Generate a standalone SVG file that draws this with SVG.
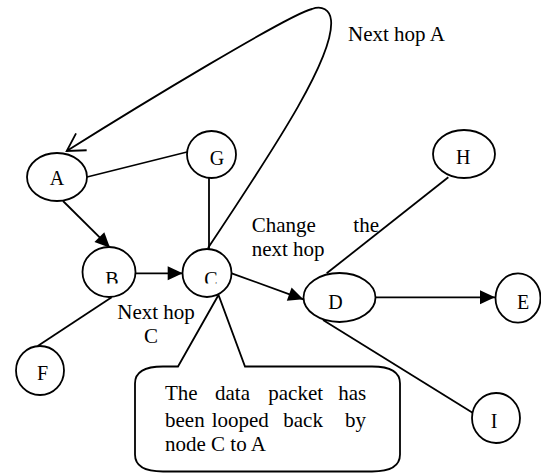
<svg xmlns="http://www.w3.org/2000/svg" width="541" height="473" viewBox="0 0 541 473">
<style>
  .node ellipse { fill: #fff; stroke: #000; stroke-width: 1.8; }
  .lbl { font-family: "Liberation Serif", "Times New Roman", serif; font-size: 20px; fill: #000; text-anchor: middle; }
  .txt { font-family: "Liberation Serif", "Times New Roman", serif; font-size: 21px; fill: #000; }
  .edge { fill: none; stroke: #000; stroke-width: 1.8; }
  .arr { marker-end: url(#head); }
</style>
<defs>
  <marker id="head" markerUnits="userSpaceOnUse" markerWidth="16" markerHeight="16" refX="15" refY="7" orient="auto" overflow="visible">
    <path d="M0,0 L15,7 L0,14 Z" fill="#000"/>
  </marker>
  <marker id="open" markerUnits="userSpaceOnUse" markerWidth="24" markerHeight="24" refX="20" refY="11" orient="auto" overflow="visible">
    <path d="M2.7,1 L20,11 L2.7,21" fill="none" stroke="#000" stroke-width="1.8"/>
  </marker>
  <clipPath id="cut">
    <rect x="0" y="0" width="541" height="283.5"/>
  </clipPath>
</defs>
<rect width="541" height="473" fill="#fff"/>

<g id="connectors">
  <line class="edge" x1="87" y1="177" x2="187" y2="152"/>
  <line class="edge" x1="209" y1="178" x2="209" y2="249"/>
  <line class="edge" x1="448.3" y1="177.3" x2="326.7" y2="273.3"/>
  <line class="edge" x1="111.7" y1="297.3" x2="37.7" y2="346"/>
  <line class="edge" x1="323" y1="320" x2="473" y2="413"/>
  <line class="edge arr" x1="63" y1="201" x2="110" y2="247.7"/>
  <line class="edge arr" x1="135.7" y1="273.3" x2="182.7" y2="273.3"/>
  <line class="edge arr" x1="231.7" y1="273.3" x2="303.3" y2="299.3"/>
  <line class="edge arr" x1="375.7" y1="297.3" x2="495" y2="297.3"/>
  <path class="edge" marker-end="url(#open)" d="M208,248 C280,140 335,55 331,20 C330,10 322,5 312,9 C290,14 140,105 66.7,151"/>
</g>

<g id="callout">
  <path d="M178,366.5 L218.5,295 L245,366.5 L372,366.5 Q400,366.5 400,383.5 L400,454.5 Q400,471.5 372,471.5 L163,471.5 Q135,471.5 135,454.5 L135,383.5 Q135,366.5 163,366.5 Z" fill="#fff" stroke="#000" stroke-width="1.8" stroke-linejoin="miter"/>
  <text class="txt" y="400"><tspan x="165">The</tspan><tspan x="215">data</tspan><tspan x="268.3">packet</tspan><tspan x="338.3">has</tspan></text>
  <text class="txt" y="426.7"><tspan x="165">been</tspan><tspan x="211.7">looped</tspan><tspan x="283.3">back</tspan><tspan x="345">by</tspan></text>
  <text class="txt" x="165" y="450.5">node C to A</text>
</g>

<g id="labels">
  <text class="txt" x="348" y="40.5">Next hop A</text>
  <text class="txt" x="251.7" y="231.7">Change</text>
  <text class="txt" x="353.3" y="231.7">the</text>
  <text class="txt" x="251.7" y="256">next hop</text>
  <text class="txt" x="117.3" y="319">Next hop</text>
  <text class="txt" x="151" y="343" text-anchor="middle">C</text>
</g>

<g id="node-A" class="node"><ellipse cx="57" cy="177" rx="30" ry="24"/><text class="lbl" x="57" y="185">A</text></g>
<g id="node-G" class="node"><ellipse cx="211.5" cy="154.5" rx="24.5" ry="23.5"/><text class="lbl" x="217" y="165">G</text></g>
<g id="node-H" class="node"><ellipse cx="464" cy="154" rx="31" ry="24"/><text class="lbl" x="463.3" y="164.3">H</text></g>
<g id="node-B" class="node"><ellipse cx="109" cy="272" rx="26.5" ry="25"/><text class="lbl" x="112" y="285.5" clip-path="url(#cut)">B</text></g>
<g id="node-C" class="node"><ellipse cx="207" cy="273" rx="24.5" ry="24"/><text class="lbl" x="210.8" y="285.5" clip-path="url(#cut)">C</text></g>
<g id="node-D" class="node"><ellipse cx="339.5" cy="297.5" rx="36" ry="24.5"/><text class="lbl" x="335.5" y="309">D</text></g>
<g id="node-E" class="node"><ellipse cx="518" cy="298" rx="22.5" ry="24.7"/><text class="lbl" x="523" y="309">E</text></g>
<g id="node-F" class="node"><ellipse cx="40" cy="370.5" rx="24" ry="24.5"/><text class="lbl" x="42.5" y="380">F</text></g>
<g id="node-I" class="node"><ellipse cx="496" cy="418" rx="24" ry="25"/><text class="lbl" x="494" y="428.3">I</text></g>
</svg>
